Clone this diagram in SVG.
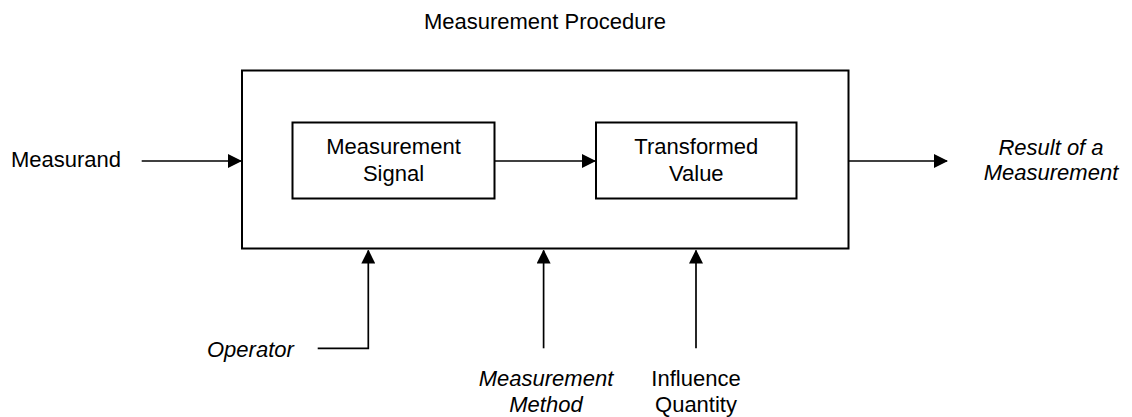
<svg xmlns="http://www.w3.org/2000/svg" width="1132" height="417" viewBox="0 0 1132 417">
  <style>
    .box { fill: #ffffff; stroke: #000000; stroke-width: 2; }
    .conn { fill: none; stroke: #000000; stroke-width: 1.7; marker-end: url(#arrow); }
    text { font-family: "Liberation Sans", Arial, sans-serif; font-size: 22px; fill: #000000; }
    .c { text-anchor: middle; }
    .i { font-style: italic; }
  </style>
  <defs>
    <marker id="arrow" markerUnits="userSpaceOnUse" markerWidth="14" markerHeight="14" refX="13" refY="7" orient="auto">
      <path d="M0,0 L14,7 L0,14 Z" fill="#000000"/>
    </marker>
  </defs>
  <rect width="1132" height="417" fill="#ffffff"/>

  <g id="procedure">
    <rect class="box" x="242" y="70.5" width="606.5" height="178"/>
    <text class="c" x="545" y="29">Measurement Procedure</text>
  </g>

  <g id="signal">
    <rect class="box" x="292.5" y="122.5" width="202" height="76"/>
    <text class="c" x="393.5" y="153.5">Measurement</text>
    <text class="c" x="393.5" y="181">Signal</text>
  </g>

  <g id="value">
    <rect class="box" x="596" y="122.5" width="200.5" height="76"/>
    <text class="c" x="696.3" y="153.5">Transformed</text>
    <text class="c" x="696.3" y="181">Value</text>
  </g>

  <g id="measurand">
    <text x="11" y="167">Measurand</text>
  </g>

  <g id="result">
    <text class="c i" x="1051" y="155">Result of a</text>
    <text class="c i" x="1051" y="180">Measurement</text>
  </g>

  <g id="operator">
    <text class="i" x="207" y="357">Operator</text>
  </g>

  <g id="method">
    <text class="c i" x="546" y="386">Measurement</text>
    <text class="c i" x="546" y="411.5">Method</text>
  </g>

  <g id="influence">
    <text class="c" x="696" y="386">Influence</text>
    <text class="c" x="696" y="411.5">Quantity</text>
  </g>

  <g id="connectors">
    <line class="conn" x1="141.7" y1="161" x2="241" y2="161"/>
    <line class="conn" x1="494.5" y1="161" x2="595" y2="161"/>
    <line class="conn" x1="848.5" y1="161" x2="947" y2="161"/>
    <polyline class="conn" points="317.7,348.3 368.3,348.3 368.3,250.5"/>
    <line class="conn" x1="543.6" y1="348.3" x2="543.6" y2="250.5"/>
    <line class="conn" x1="696" y1="348.3" x2="696" y2="250.5"/>
  </g>
</svg>
